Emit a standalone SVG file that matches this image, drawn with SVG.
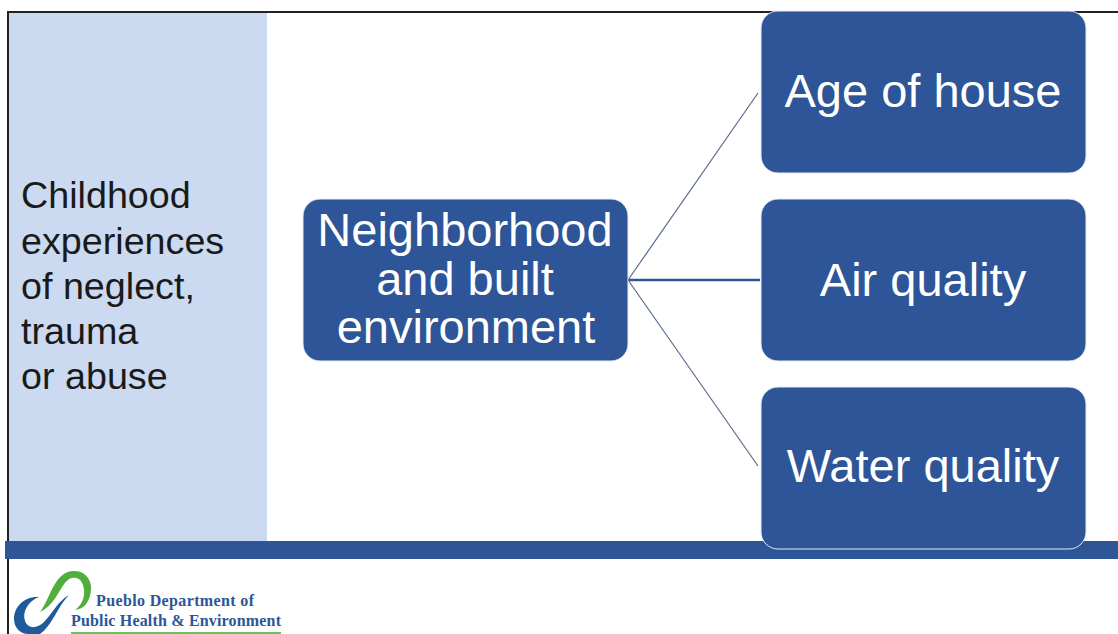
<svg xmlns="http://www.w3.org/2000/svg" width="1118" height="634" viewBox="0 0 1118 634">
<style>
.n{fill:#2d5597;stroke:#e8ecf4;stroke-width:1}
.w{font-family:"Liberation Sans",Arial,sans-serif;font-size:47px;fill:#fff;text-anchor:middle}
.k{font-family:"Liberation Sans",Arial,sans-serif;font-size:37.7px;fill:#1a1a1a}
.l{font-family:"Liberation Serif",serif;font-size:16px;font-weight:bold;fill:#2d5597}
.c{fill:none;stroke:#5a6b8c;stroke-width:1.2}
</style>
<rect width="1118" height="634" fill="#fff"/>
<rect x="9" y="12" width="258" height="529" fill="#cbdaf0"/>
<path d="M1118 12H8V634" fill="none" stroke="#222" stroke-width="2"/>
<rect x="5" y="541" width="1113" height="18" fill="#2d5597"/>
<g id="connectors">
<path class="c" d="M628 280L758 93"/>
<path class="c" d="M628 280L758 466"/>
<path class="c" d="M628 280H760" style="stroke:#2d5597;stroke-width:2.5"/>
</g>
<g id="side"><text class="k" x="21" y="208">Childhood</text><text class="k" x="21" y="254">experiences</text><text class="k" x="21" y="299">of neglect,</text><text class="k" x="21" y="344">trauma</text><text class="k" x="21" y="389">or abuse</text></g>
<g id="center"><rect class="n" x="303" y="199" width="325" height="162" rx="17"/><text class="w" x="465" y="246">Neighborhood</text><text class="w" x="465" y="295">and built</text><text class="w" x="466" y="343">environment</text></g>
<g id="age"><rect class="n" x="761" y="11" width="325" height="162" rx="17"/><text class="w" x="923" y="107">Age of house</text></g>
<g id="air"><rect class="n" x="761" y="199" width="325" height="162" rx="17"/><text class="w" x="923" y="296">Air quality</text></g>
<g id="water"><rect class="n" x="761" y="387" width="325" height="162" rx="17"/><text class="w" x="923" y="482">Water quality</text></g>
<g id="logo">
<path d="M40 612C50 600 54 571 74 571C87 571 92 582 91 590C90 602 84 609 75 610C81 606 85 598 84 590C83 581 79 577 72 578C61 580 58 604 40 612Z" fill="#4fae3c"/>
<path d="M39 597C24 596 14 607 14 619C14 628 21 634 28 634L40 634C52 626 58 606 69 595C58 601 52 614 44 622C37 629 28 629 25 621C22 612 28 601 39 597Z" fill="#1f5a9a"/>
<text class="l" x="96" y="606" textLength="158">Pueblo Department of</text>
<text class="l" x="71" y="626" textLength="210">Public Health &amp; Environment</text>
<rect x="71" y="632" width="210" height="2" fill="#6cc05a"/>
</g>
</svg>
